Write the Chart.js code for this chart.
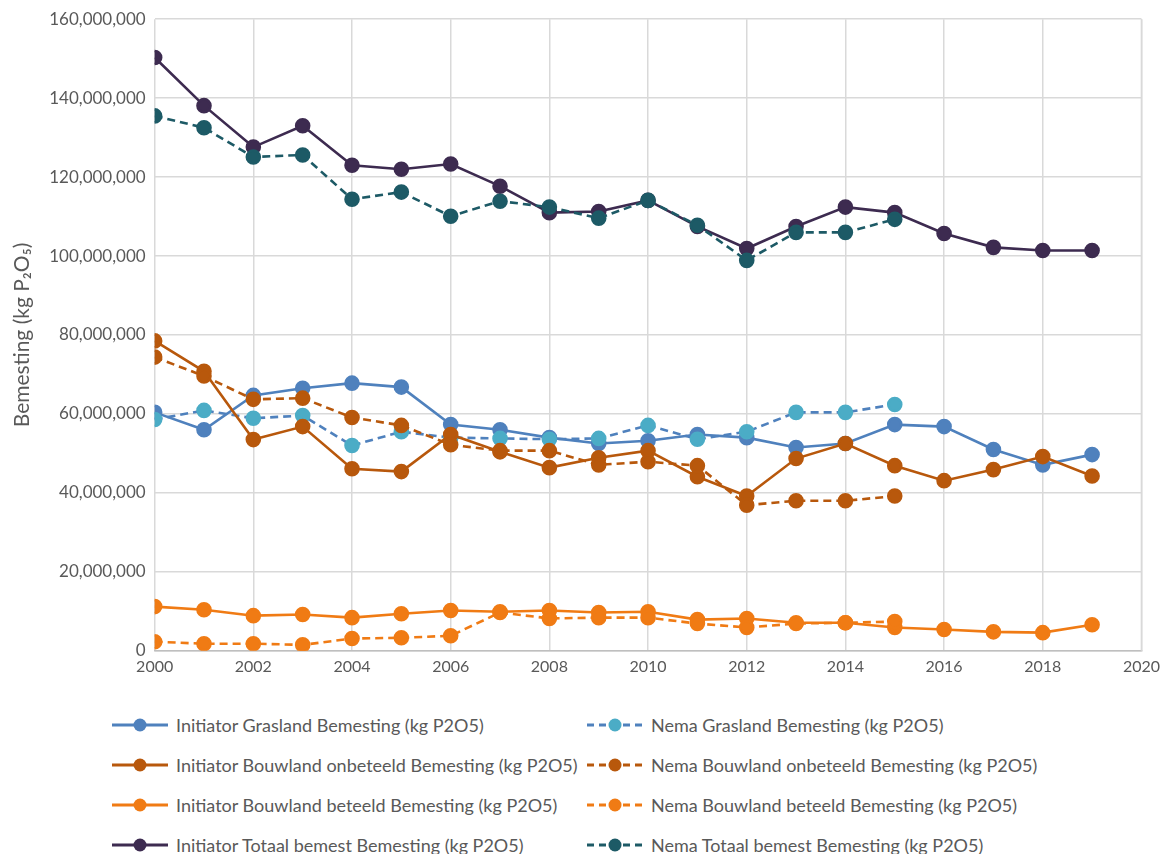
<!DOCTYPE html>
<html>
<head>
<meta charset="utf-8">
<script src="https://cdn.jsdelivr.net/npm/chart.js@4.4.1/dist/chart.umd.min.js"></script>
<style>
  html, body { margin: 0; padding: 0; background: #fff; }
  body { width: 1166px; height: 854px; overflow: hidden; font-family: Lato, "Open Sans", sans-serif; }
  #wrap { position: relative; width: 1166px; height: 682px; }
  #legend { display: grid; grid-template-columns: 475px 560px; margin-left: 111px; margin-top: 23px; row-gap: 0; }
  .item { display: flex; align-items: center; height: 40px; color: #595959; font-size: 18px; white-space: nowrap; }
  .item svg { margin-right: 7px; flex: none; }
</style>
</head>
<body>
<div id="wrap"><canvas id="chart"></canvas></div>
<div id="legend"></div>
<script>
// jaren en reeksen (kg P2O5, in miljoenen)
const years = [2000, 2001, 2002, 2003, 2004, 2005, 2006, 2007, 2008, 2009, 2010,
               2011, 2012, 2013, 2014, 2015, 2016, 2017, 2018, 2019];
const nemaYears = years.slice(0, 16);

const initGrasland = [60.4, 56.0, 64.7, 66.5, 67.8, 66.8, 57.3, 56.0, 54.0, 52.5, 53.2,
                      54.8, 54.0, 51.5, 52.5, 57.3, 56.8, 51.0, 47.1, 49.7];
const nemaGrasland = [58.6, 60.9, 58.9, 59.6, 52.0, 55.5, 54.0, 53.8, 53.6, 53.8, 57.1,
                      53.6, 55.5, 60.4, 60.4, 62.4];
const initOnbeteeld = [78.5, 70.8, 53.5, 56.8, 46.1, 45.4, 54.8, 50.4, 46.4, 48.9, 50.7,
                       44.1, 39.2, 48.7, 52.5, 46.9, 43.1, 45.9, 49.2, 44.3];
const nemaOnbeteeld = [74.4, 69.6, 63.7, 64.0, 59.1, 57.1, 52.2, 50.7, 50.7, 47.1, 47.9,
                       46.9, 36.9, 38.0, 38.0, 39.2];
const initBeteeld = [11.2, 10.4, 8.9, 9.2, 8.4, 9.4, 10.2, 9.9, 10.2, 9.7, 9.9,
                     7.9, 8.2, 7.1, 7.1, 5.9, 5.4, 4.8, 4.6, 6.6];
const nemaBeteeld = [2.3, 1.8, 1.8, 1.5, 3.1, 3.3, 3.8, 9.7, 8.2, 8.4, 8.4,
                     6.9, 5.9, 6.9, 7.1, 7.4];
const initTotaal = [150.3, 138.1, 127.6, 133.0, 123.0, 122.0, 123.3, 117.7, 111.0, 111.3, 114.1,
                    107.5, 101.9, 107.5, 112.4, 111.0, 105.7, 102.2, 101.4, 101.4];
const nemaTotaal = [135.5, 132.5, 125.1, 125.6, 114.4, 116.2, 110.1, 113.9, 112.4, 109.6, 114.1,
                    107.8, 98.9, 106.0, 106.0, 109.3];

const xTicks = [2000, 2002, 2004, 2006, 2008, 2010, 2012, 2014, 2016, 2018, 2020];
const yTicks = [0, 20000000, 40000000, 60000000, 80000000, 100000000, 120000000, 140000000, 160000000];

const pts = (xs, vals) => vals.map((v, i) => ({ x: xs[i], y: v * 1e6 }));

function serie(label, xs, vals, line, point, dashed) {
  return {
    label: label,
    data: pts(xs, vals),
    borderColor: line,
    backgroundColor: point,
    pointBackgroundColor: point,
    pointBorderColor: point,
    borderWidth: 2.6,
    borderDash: dashed ? [8, 5] : [],
    pointRadius: 6.5,
    pointHoverRadius: 6.5,
    tension: 0
  };
}

const datasets = [
  serie('Initiator Grasland Bemesting (kg P2O5)', years, initGrasland, '#4f81bd', '#4f81bd', false),
  serie('Nema Grasland Bemesting (kg P2O5)', nemaYears, nemaGrasland, '#4f81bd', '#4bacc6', true),
  serie('Initiator Bouwland onbeteeld Bemesting (kg P2O5)', years, initOnbeteeld, '#b8580c', '#b8580c', false),
  serie('Nema Bouwland onbeteeld Bemesting (kg P2O5)', nemaYears, nemaOnbeteeld, '#b8580c', '#b8580c', true),
  serie('Initiator Bouwland beteeld Bemesting (kg P2O5)', years, initBeteeld, '#f07b14', '#f07b14', false),
  serie('Nema Bouwland beteeld Bemesting (kg P2O5)', nemaYears, nemaBeteeld, '#f07b14', '#f07b14', true),
  serie('Initiator Totaal bemest Bemesting (kg P2O5)', years, initTotaal, '#3d2b50', '#3d2b50', false),
  serie('Nema Totaal bemest Bemesting (kg P2O5)', nemaYears, nemaTotaal, '#1d5a66', '#1d5a66', true)
];
// Excel tekent latere reeksen bovenop
datasets.forEach((d, i) => { d.order = datasets.length - i; });

const chart = new Chart(document.getElementById('chart'), {
  type: 'line',
  data: { datasets: datasets },
  options: {
    responsive: true,
    maintainAspectRatio: false,
    animation: false,
    layout: { padding: { top: 11, right: 20, left: 10, bottom: 0 } },
    plugins: { legend: { display: false }, tooltip: { enabled: false } },
    scales: {
      x: {
        type: 'linear',
        min: 2000, max: 2020,
        afterBuildTicks: (axis) => { axis.ticks = xTicks.map(v => ({ value: v })); },
        ticks: { color: '#595959', font: { family: 'Lato', size: 16 }, padding: 6,
                 callback: (v) => String(v) },
        grid: { color: '#d9d9d9', lineWidth: 1.5, drawTicks: false },
        border: { color: '#bfbfbf', width: 1.5 }
      },
      y: {
        min: 0, max: 160000000,
        afterBuildTicks: (axis) => { axis.ticks = yTicks.map(v => ({ value: v })); },
        ticks: { color: '#595959', font: { family: 'Lato', size: 17 }, padding: 9,
                 callback: (v) => v.toLocaleString('en-US') },
        grid: { color: '#d9d9d9', lineWidth: 1.5, drawTicks: false },
        border: { display: false },
        title: { display: true, text: 'Bemesting (kg P\u2082O\u2085)', color: '#595959',
                 font: { family: 'Lato', size: 21 }, padding: { top: 0, bottom: 5 } }
      }
    }
  },
  plugins: [{
    id: 'rightBorder',
    afterDraw(c) {
      const a = c.chartArea, ctx = c.ctx;
      ctx.save();
      ctx.strokeStyle = '#d9d9d9';
      ctx.lineWidth = 1.5;
      ctx.beginPath();
      ctx.moveTo(a.right, a.top);
      ctx.lineTo(a.right, a.bottom);
      ctx.stroke();
      ctx.restore();
    }
  }]
});

// legenda in twee kolommen zoals in Excel
const legend = document.getElementById('legend');
chart.data.datasets.forEach((d) => {
  const dashed = d.borderDash.length > 0;
  const item = document.createElement('div');
  item.className = 'item';
  const dash = dashed ? ' stroke-dasharray="7 5"' : '';
  item.innerHTML =
    '<svg width="58" height="16"><line x1="1" y1="8" x2="57" y2="8" stroke="' + d.borderColor +
    '" stroke-width="3"' + dash + '/><circle cx="29" cy="8" r="6.5" fill="' + d.pointBackgroundColor +
    '"/></svg><span>' + d.label + '</span>';
  legend.appendChild(item);
});
</script>
</body>
</html>
